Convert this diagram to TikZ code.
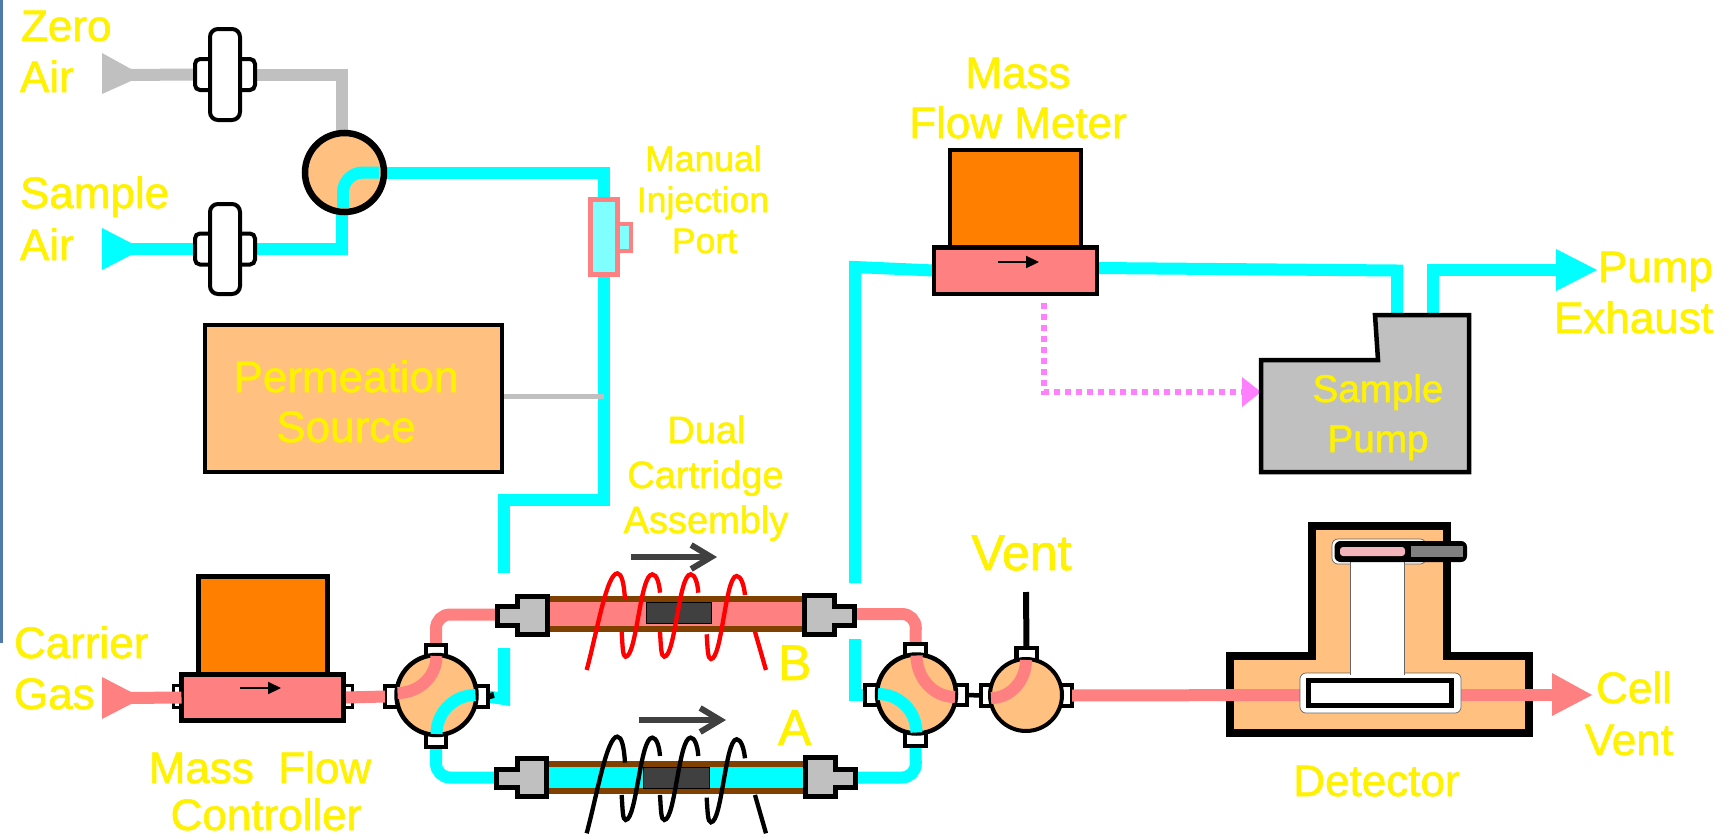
\documentclass[tikz,border=0pt]{standalone}
\usepackage{fontspec}
\setmainfont{Liberation Sans}[FakeBold=1.4]
\usetikzlibrary{arrows.meta,calc}
\pgfdeclarelayer{bg}\pgfdeclarelayer{fg}\pgfdeclarelayer{top}
\pgfsetlayers{bg,main,fg,top}
\definecolor{pipecyan}{HTML}{00FFFF}
\definecolor{pipepink}{HTML}{FF8080}
\definecolor{pipegray}{HTML}{C0C0C0}
\definecolor{tan}{HTML}{FFC080}
\definecolor{orangebox}{HTML}{FF8000}
\definecolor{brownwall}{HTML}{804000}
\definecolor{darkbed}{HTML}{404040}
\definecolor{magentaline}{HTML}{FF80FF}
\definecolor{lamp}{HTML}{F4B4BC}
\definecolor{sideblue}{HTML}{4F7BA8}
\tikzset{
  plain/.style={rectangle,inner sep=0,outer sep=0},
  blackbox/.style={plain,draw=black,line width=5pt},
  tabnode/.style={plain,draw=black,line width=4.5pt,fill=white},
  valve/.style={circle,inner sep=0,outer sep=0,draw=black,line width=4.5pt,fill=tan},
  filterbody/.style={plain,draw=black,line width=4pt,fill=white,rounded corners=8pt},
  filtertab/.style={plain,draw=black,line width=4pt,fill=white,rounded corners=5pt},
  cpipe/.style={draw=pipecyan,line width=12pt},
  ppipe/.style={draw=pipepink,line width=12pt},
  gpipe/.style={draw=pipegray,line width=12pt},
  fitting/.style={draw=black,fill=pipegray,line width=5pt},
  flowmark/.style={line width=2.2pt,-{Triangle[length=13pt,width=12pt]}},
  dirmark/.style={draw=darkbed,line width=6pt,-{Straight Barb[length=20pt,width=24pt]}},
  heatwire/.style={line width=4.3pt},
  lbl/.style={plain,text=yellow,anchor=base west,font=\fontsize{44pt}{50pt}\selectfont},
  lblc/.style={lbl,anchor=base},
  lble/.style={lbl,anchor=base east},
  small/.style={lblc,font=\fontsize{35.5pt}{40pt}\selectfont},
  mid/.style={lblc,font=\fontsize{38pt}{44pt}\selectfont},
  big/.style={lbl,font=\fontsize{50pt}{56pt}\selectfont},
}
\newcommand\heatcoil[2]{%
\begin{scope}[shift={(480,#2)},x=.3333pt,y=-.3333pt]
\draw[heatwire,draw=#1] (320,390) .. controls (350,280) and (380,100) .. (412,100) .. controls (425,100) and (432,130) .. (435,178);
\draw[heatwire,draw=#1] (425,275) .. controls (428,320) and (428,350) .. (437,350) .. controls (470,350) and (480,103) .. (517,103) .. controls (530,103) and (538,130) .. (540,158);
\draw[heatwire,draw=#1] (540,275) .. controls (543,320) and (543,350) .. (553,350) .. controls (586,350) and (596,103) .. (632,103) .. controls (645,103) and (653,130) .. (655,158);
\draw[heatwire,draw=#1] (680,283) .. controls (683,325) and (683,357) .. (693,357) .. controls (726,357) and (736,108) .. (770,108) .. controls (783,108) and (792,135) .. (795,165);
\draw[heatwire,draw=#1] (825,275) -- (858,390);
\end{scope}}
\begin{document}
\begin{tikzpicture}[x=1pt,y=-1pt]
\useasboundingbox (0,0) rectangle (1733,835);
\clip (0,0) rectangle (1733,835);
\begin{pgfonlayer}{bg}
\fill[white] (0,0) rectangle (1733,835);
\fill[sideblue] (0,0) rectangle (2.7,643);
\end{pgfonlayer}

% free ends
\coordinate (zeroIn) at (125,75);
\coordinate (sampleIn) at (125,249);
\coordinate (carrierIn) at (125,698);
\coordinate (bL) at (497,614.5);
\coordinate (bR) at (855,614);
\coordinate (aL) at (497,777.5);
\coordinate (aR) at (855,777.5);
\coordinate (gapLtop) at (504,573);
\coordinate (gapLbot) at (504,648);
\coordinate (gapRtop) at (855,583);
\coordinate (gapRbot) at (855,639);
\coordinate (exhaustTip) at (1556,269.5);
\coordinate (cellTip) at (1552,695);
\coordinate (ventTop) at (1026,592);
\coordinate (dotStart) at (1044,303);
\coordinate (dotEnd) at (1242,392);

% filters and selector valve
\node[filtertab,minimum width=60pt,minimum height=31pt] (f1tab) at (225,74.5) {};
\node[filterbody,minimum width=30pt,minimum height=91pt] (f1) at (225,74.5) {};
\node[filtertab,minimum width=60pt,minimum height=31pt] (f2tab) at (225,249) {};
\node[filterbody,minimum width=30pt,minimum height=90pt] (f2) at (225,249) {};
\node[valve,line width=6.5pt,minimum size=79pt] (vS) at (344.5,172.5) {};

% injection port
\node[plain,draw=pipepink,fill=pipecyan!50,line width=4pt,minimum width=14pt,minimum height=27pt] (injtab) at (624,237.5) {};
\node[plain,draw=pipepink,fill=pipecyan!50,line width=5pt,minimum width=27pt,minimum height=75pt] (inj) at (603.5,237) {};

% permeation
\node[blackbox,line width=4.5pt,fill=tan,minimum width=297pt,minimum height=147pt] (perm) at (353.5,398.5) {};

% mass flow controller
\node[tabnode,line width=3pt,minimum width=12pt,minimum height=22pt] (mfcTL) at (179,696.5) {};
\node[tabnode,line width=3pt,minimum width=12pt,minimum height=22pt] (mfcTR) at (346,696.5) {};
\node[blackbox,fill=orangebox,minimum width=129pt,minimum height=98.5pt] (mfcTop) at (263,625.75) {};
\node[blackbox,fill=pipepink,minimum width=162pt,minimum height=46pt] (mfc) at (262.5,697.5) {};
\draw[flowmark] (240,688) -- (281,688);

% mass flow meter
\node[blackbox,line width=4.5pt,fill=orangebox,minimum width=131pt,minimum height=97pt] (mfmTop) at (1015.5,198.5) {};
\node[blackbox,line width=4.5pt,fill=pipepink,minimum width=163pt,minimum height=46.5pt] (mfm) at (1015.5,270.5) {};
\draw[flowmark] (998,262) -- (1039,262);

% valve 1
\node[tabnode,minimum width=15pt,minimum height=21pt] (v1L) at (392.5,696.5) {};
\node[tabnode,minimum width=16pt,minimum height=21pt] (v1R) at (480,696.5) {};
\node[tabnode,minimum width=20pt,minimum height=17pt] (v1T) at (436,653.5) {};
\node[tabnode,minimum width=20pt,minimum height=17pt] (v1B) at (436,738.5) {};
\node[valve,minimum size=80pt] (v1) at (436.5,695) {};

% valve 2
\node[tabnode,minimum width=16pt,minimum height=20pt] (v2L) at (873,695) {};
\node[tabnode,minimum width=15pt,minimum height=20pt] (v2R) at (959.5,695) {};
\node[tabnode,minimum width=21pt,minimum height=16pt] (v2T) at (915.5,652) {};
\node[tabnode,minimum width=21pt,minimum height=18pt] (v2B) at (915.5,737) {};
\node[valve,minimum size=79pt] (v2) at (916.5,694) {};

% vent valve
\node[tabnode,minimum width=16pt,minimum height=21pt] (vvL) at (989,695.5) {};
\node[tabnode,minimum width=17pt,minimum height=21pt] (vvR) at (1063.5,695.5) {};
\node[tabnode,minimum width=20.5pt,minimum height=16pt] (vvT) at (1026.5,656) {};
\node[valve,line width=4pt,minimum size=72pt] (vv) at (1026,695) {};

% cartridges
\node[plain,fill=brownwall,minimum width=252pt,minimum height=36pt] (tubeB) at (676,614) {};
\node[plain,fill=pipepink,minimum width=252pt,minimum height=24pt] (boreB) at (676,614) {};
\node[plain,fill=darkbed,draw=black,line width=.6pt,minimum width=65pt,minimum height=21pt] (bedB) at (678.5,612.5) {};
\node[plain,fill=brownwall,minimum width=254pt,minimum height=33pt] (tubeA) at (676,777.5) {};
\node[plain,fill=pipecyan,minimum width=254pt,minimum height=21pt] (boreA) at (676,777.5) {};
\node[plain,fill=darkbed,draw=black,line width=.6pt,minimum width=66pt,minimum height=21pt] (bedA) at (676,777.5) {};
\draw[fitting] (497.5,606.5) -- (517.5,606.5) -- (517.5,596.5) -- (547.5,596.5) -- (547.5,634.5) -- (517.5,634.5) -- (517.5,625.5) -- (497.5,625.5) -- cycle;
\draw[fitting] (804.5,595.5) -- (834.5,595.5) -- (834.5,606.5) -- (854.5,606.5) -- (854.5,625.5) -- (834.5,625.5) -- (834.5,634.5) -- (804.5,634.5) -- cycle;
\draw[fitting] (496.5,769.5) -- (517.5,769.5) -- (517.5,758.5) -- (546.5,758.5) -- (546.5,796.5) -- (517.5,796.5) -- (517.5,787.5) -- (496.5,787.5) -- cycle;
\draw[fitting] (805.5,757.5) -- (835.5,757.5) -- (835.5,769.5) -- (855.5,769.5) -- (855.5,787.5) -- (835.5,787.5) -- (835.5,796.5) -- (805.5,796.5) -- cycle;
\heatcoil{red}{540}
\heatcoil{black}{703.3}
\draw[dirmark] (631,557) -- (717,557);
\draw[dirmark] (639,720) -- (726,720);

% sample pump
\draw[fill=pipegray,draw=black,line width=4.5pt] (1261,360) -- (1378,360) -- (1375,315) -- (1469,315) -- (1469,472) -- (1261,472) -- cycle;
\coordinate (pumpIn) at (1397,315);
\coordinate (pumpOut) at (1433,315);
\coordinate (pumpSide) at (1261,392);

% detector
\draw[fill=tan,draw=black,line width=8pt] (1230,656) -- (1312,656) -- (1312,526) -- (1447,526) -- (1447,656) -- (1528.5,656) -- (1528.5,733) -- (1230,733) -- cycle;

% connectors behind the bodies
\begin{pgfonlayer}{bg}
\draw[gpipe] (zeroIn) -- (f1tab.west);
\draw[gpipe] (f1tab.east) -- ($(f1tab.east -| vS.north)+(-3,0)$) -- ([xshift=-3pt]vS.north);
\draw[cpipe] (sampleIn) -- (f2tab.west);
\draw[cpipe] (f2tab.east) -- ($(f2tab.east -| vS.south)+(-3,0)$) -- ([xshift=-3pt]vS.south);
\draw[cpipe] (vS.east) -- (vS.east -| inj.north) -- (inj.north);
\draw[cpipe] (inj.south) -- (603.5,500) -- (504,500) -- (gapLtop);
\draw[draw=pipegray,line width=4.5pt] ([yshift=2pt]perm.east) -- ([yshift=2pt]perm.east -| inj.south);
\draw[cpipe] (gapLbot) -- (504,699) -- (v1R.east);
\draw[line width=6pt] (v1R.east) -- (494,695);
\draw[ppipe,rounded corners=14pt] (bL) -- (436,614.5) -- (v1T.north);
\draw[cpipe,rounded corners=14pt] (v1B.south) -- (436,777.5) -- (aL);
\draw[ppipe,rounded corners=14pt] (bR) -- (916,614) -- (v2T.north);
\draw[cpipe,rounded corners=14pt] (v2B.south) -- (916,777.5) -- (aR);
\draw[cpipe] (gapRbot) -- (855,695) -- (v2L.west);
\draw[cpipe] (gapRtop) -- (855,267) -- (mfm.west);
\draw[cpipe] ([yshift=2.5pt]mfm.east) -- (1397,270.5) -- (pumpIn);
\draw[cpipe] (pumpOut) -- (1433,269.5) -- (exhaustTip);
\draw[line width=4.5pt] (v2R.east) -- (vvL.west);
\draw[line width=6pt] (vvT.north) -- (ventTop);
\fill[pipegray] (102,53) -- (131,69) -- (131,81) -- (102,94) -- cycle;
\fill[pipecyan] (102,228) -- (131,243) -- (131,255) -- (102,270) -- cycle;
\fill[pipecyan] (1556,249) -- (1597,270) -- (1556,291) -- cycle;
\draw[draw=magentaline,line width=5.5pt,dash pattern=on 6pt off 5pt] (dotStart) -- (1044,392) -- (dotEnd);
\fill[magentaline] (1242,377) -- (pumpSide) -- (1242,407) -- cycle;
\end{pgfonlayer}

% connectors over the bodies
\begin{pgfonlayer}{fg}
\fill[pipepink] (102,677) -- (131,692) -- (131,704) -- (102,719) -- cycle;
\draw[ppipe] (carrierIn) -- (mfc.west);
\draw[ppipe] ([xshift=2.5pt]mfc.east) -- (v1L.west);
\draw[cpipe,rounded corners=20pt] ([xshift=-1.5pt,yshift=4pt]vS.south) -- ([xshift=-1.5pt]vS.center) -- ([xshift=-5pt]vS.east);
\draw[ppipe] ([xshift=1pt,yshift=2pt]v1.west) to[out=0,in=-90] ([yshift=-1pt]v1.north);
\draw[cpipe] ([xshift=-1pt]v1.east) to[out=180,in=90] ([yshift=1pt]v1.south);
\draw[ppipe] ([yshift=-1pt]v2.north) to[out=-90,in=180] ([xshift=-1pt,yshift=-3pt]v2.east);
\draw[cpipe] ([xshift=1pt]v2.west) to[out=0,in=90] ([yshift=1pt]v2.south);
\draw[ppipe] ([yshift=-1pt]vv.north) to[out=-90,in=0] ([xshift=1pt,yshift=-3pt]vv.west);
\draw[ppipe] (vvR.east) -- (1300,695);
\draw[ppipe] (1461,695) -- (cellTip);
\fill[pipepink] (1552,673) -- (1592,695) -- (1552,716) -- cycle;
\end{pgfonlayer}

% detector cell and lamp
\begin{pgfonlayer}{top}
\node[plain,fill=white,draw=black!60,line width=.7pt,rounded corners=6pt,minimum width=94pt,minimum height=25pt] (lampBay) at (1379,551.5) {};
\node[plain,fill=white,draw=black!60,line width=.7pt,rounded corners=6pt,minimum width=161pt,minimum height=40pt] (cellBay) at (1380.5,693) {};
\node[plain,fill=white,minimum width=54pt,minimum height=113pt] (neck) at (1377,618.5) {};
\draw[draw=black!60,line width=.7pt] (neck.north west) -- (neck.south west);
\draw[draw=black!60,line width=.7pt] (neck.north east) -- (neck.south east);
\node[plain,fill=white,draw=black,line width=5pt,minimum width=143.5pt,minimum height=25pt] (cell) at (1379.75,693) {};
\node[plain,fill=black,rounded corners=6pt,minimum width=132.5pt,minimum height=21pt] (lampBody) at (1400.75,551.5) {};
\node[plain,fill=lamp,rounded corners=3pt,minimum width=65pt,minimum height=9pt] (lampGlass) at (1372.5,551.5) {};
\node[plain,fill=black!50,minimum width=51.5pt,minimum height=11pt] (lampBase) at (1436.75,551.5) {};
\end{pgfonlayer}

% labels
\begin{pgfonlayer}{top}
\node[lbl] (tZero) at (21,41) {Zero};
\node[lbl] (tAir1) at (20,92) {Air};
\node[lbl] (tSample) at (20,208) {Sample};
\node[lbl] (tAir2) at (20,260) {Air};
\node[small] (tManual) at (703.5,171) {Manual};
\node[small] (tInj) at (703,212) {Injection};
\node[small] (tPort) at (704.5,253) {Port};
\node[lblc] (tMass) at (1018,88) {Mass};
\node[lblc] (tFlowM) at (1018,138) {Flow Meter};
\node[lble] (tPump) at (1713,282) {Pump};
\node[lble] (tExh) at (1713,333) {Exhaust};
\node[lblc] (tPerm) at (346,392) {Permeation};
\node[lblc] (tSrc) at (346,442) {Source};
\node[mid] (tDual) at (706.5,443) {Dual};
\node[mid] (tCart) at (705.5,488) {Cartridge};
\node[mid] (tAsm) at (706,533) {Assembly};
\node[lblc,font=\fontsize{38.6pt}{44pt}\selectfont] (tSP) at (1378,402) {Sample};
\node[lblc,font=\fontsize{38.6pt}{44pt}\selectfont] (tPP) at (1378,452) {Pump};
\node[big,anchor=base] (tVent) at (1021.5,570) {Vent};
\node[lbl] (tCarrier) at (14,658) {Carrier};
\node[lbl] (tGas) at (14,709) {Gas};
\node[lblc] (tMFC) at (260,783) {Mass\ \ Flow};
\node[lblc] (tCtl) at (266,830) {Controller};
\node[lblc] (tDet) at (1376.5,796) {Detector};
\node[lble] (tCell) at (1672,703) {Cell};
\node[lble] (tVent2) at (1673,755) {Vent};
\node[big] (tA) at (778,745) {A};
\node[big] (tB) at (778,680) {B};
\end{pgfonlayer}
\end{tikzpicture}
\end{document}
